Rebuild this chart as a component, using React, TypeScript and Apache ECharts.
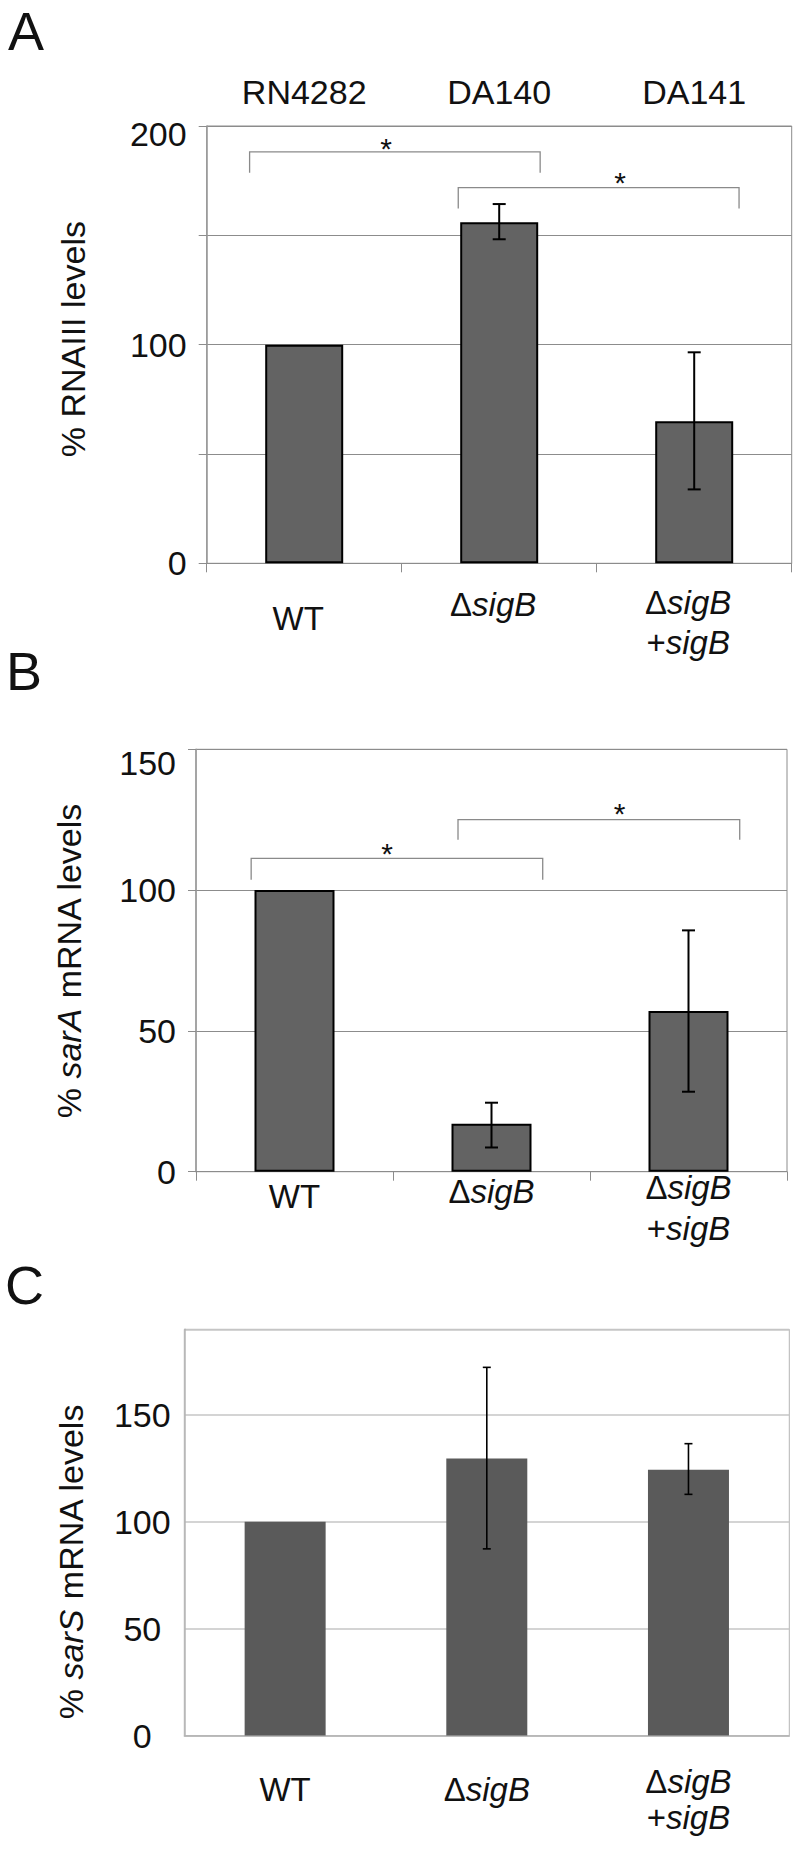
import React, { useEffect, useRef } from 'react';
import * as echarts from 'echarts';

const FONT = '"Liberation Sans", Arial, Helvetica, sans-serif';

// ---- data ----
const categories = ['WT', 'ΔsigB', 'ΔsigB +sigB'];
const strains = ['RN4282', 'DA140', 'DA141'];

const rnaIIIMean = [100, 156, 65];
const rnaIIIErrLow = [null, 148.2, 33.8];
const rnaIIIErrHigh = [null, 164.3, 96.5];

const sarAMean = [100, 17, 57.1];
const sarAErrLow = [null, 8.6, 28.4];
const sarAErrHigh = [null, 24.5, 85.7];

const sarSMean = [100, 129.6, 124.3];
const sarSErrLow = [null, 87.3, 112.8];
const sarSErrHigh = [null, 172.2, 136.5];

// significance brackets: [fromX, toX, lineY, tipY, starX, starY] (category units / axis values)
const bracketsA = [
  [-0.28, 1.21, 188.2, 178.6, 0.42, 189.8],
  [0.79, 2.23, 171.8, 162.3, 1.62, 174.3],
];
const bracketsB = [
  [-0.22, 1.26, 111.3, 103.7, 0.47, 113],
  [0.83, 2.26, 125, 117.9, 1.65, 127.2],
];

const yTicksA = [0, 100, 200];

// ---- helpers ----
const errData = (lo: (number | null)[], hi: (number | null)[]) =>
  lo.map((l, i) => (l == null ? null : [i, l, hi[i]])).filter((d) => d != null);

const catLabel = (value: string, index: number) => {
  const lines = value.split(' ');
  const first = index === 0 ? 'wt' : lines.length === 1 ? 'd' : '';
  return lines
    .map((ln) => {
      const m = ln.match(/^([Δ+]?)(.*)$/) as RegExpMatchArray;
      const pre = m[1];
      const rest = m[2];
      if (first === 'wt') return `{wt|${ln}}`;
      const nStyle = first === 'd' ? 'dn' : 'n';
      const iStyle = first === 'd' ? 'di' : 'i';
      return (pre ? `{${nStyle}|${pre}}` : '') + `{${iStyle}|${rest}}`;
    })
    .join('\n');
};

const makeRich = (fs: number, L: number, wtLH: number, dLH: number) => ({
  wt: { fontSize: fs, fontFamily: FONT, color: '#111', lineHeight: wtLH },
  dn: { fontSize: fs, fontFamily: FONT, color: '#111', lineHeight: dLH },
  di: { fontSize: fs, fontFamily: FONT, color: '#111', fontStyle: 'italic', lineHeight: dLH },
  n: { fontSize: fs, fontFamily: FONT, color: '#111', lineHeight: L },
  i: { fontSize: fs, fontFamily: FONT, color: '#111', fontStyle: 'italic', lineHeight: L },
});

const errRender = (capHalf: number, lw: number) => (params: any, api: any) => {
  const i = api.value(0);
  const lo = api.coord([i, api.value(1)]);
  const hi = api.coord([i, api.value(2)]);
  const st = { stroke: '#000', lineWidth: lw };
  return {
    type: 'group',
    children: [
      { type: 'line', shape: { x1: lo[0], y1: lo[1], x2: hi[0], y2: hi[1] }, style: st },
      { type: 'line', shape: { x1: hi[0] - capHalf, y1: hi[1], x2: hi[0] + capHalf, y2: hi[1] }, style: st },
      { type: 'line', shape: { x1: lo[0] - capHalf, y1: lo[1], x2: lo[0] + capHalf, y2: lo[1] }, style: st },
    ],
  };
};

const bracketRender = (params: any, api: any) => {
  const x1 = api.value(0);
  const x2 = api.value(1);
  const ly = api.value(2);
  const ty = api.value(3);
  const p1 = api.coord([x1, ty]);
  const p2 = api.coord([x1, ly]);
  const p3 = api.coord([x2, ly]);
  const p4 = api.coord([x2, ty]);
  const s = api.coord([api.value(4), api.value(5)]);
  return {
    type: 'group',
    children: [
      {
        type: 'polyline',
        shape: { points: [p1, p2, p3, p4] },
        style: { stroke: '#8a8a8a', lineWidth: 1.3, fill: null },
      },
      {
        type: 'text',
        x: s[0],
        y: s[1],
        style: {
          text: '*',
          fontSize: 30,
          fontFamily: FONT,
          fill: '#111',
          align: 'center',
          verticalAlign: 'middle',
        },
      },
    ],
  };
};

const grayAB = '#8c8c8c';
const grayC = '#b4b4b4';

const option: any = {
  animation: false,
  backgroundColor: '#fff',
  textStyle: { fontFamily: FONT },
  grid: [
    { left: 206.7, top: 126, width: 585, height: 437.3, show: true, borderColor: grayAB, borderWidth: 1 },
    { left: 196, top: 749.3, width: 591, height: 422.4, show: true, borderColor: grayAB, borderWidth: 1 },
    { left: 184.3, top: 1329.3, width: 605, height: 406.2, show: true, borderColor: grayC, borderWidth: 1 },
  ],
  graphic: [
    { type: 'text', left: 8, top: 4, style: { text: 'A', fontSize: 54, fontFamily: FONT, fill: '#111' } },
    { type: 'text', left: 6, top: 644, style: { text: 'B', fontSize: 54, fontFamily: FONT, fill: '#111' } },
    { type: 'text', left: 5, top: 1258, style: { text: 'C', fontSize: 54, fontFamily: FONT, fill: '#111' } },
  ],
  xAxis: [
    // 0: panel A categories
    {
      gridIndex: 0,
      type: 'category',
      data: categories,
      axisLine: { show: true, lineStyle: { color: grayAB, width: 1 } },
      axisTick: { show: true, length: 9, interval: 0, lineStyle: { color: grayAB } },
      splitLine: { show: false },
      axisLabel: {
        interval: 0,
        margin: 19,
        padding: [0, 12, 0, 0],
        formatter: catLabel,
        rich: makeRich(33, 40, 73, 45),
      },
    },
    // 1: panel A strains on top
    {
      gridIndex: 0,
      type: 'category',
      position: 'top',
      data: strains,
      axisLine: { show: false },
      axisTick: { show: false },
      splitLine: { show: false },
      axisLabel: { interval: 0, margin: 17, fontSize: 34, lineHeight: 34, fontFamily: FONT, color: '#111' },
    },
    // 2: panel A hidden value axis for brackets
    { gridIndex: 0, type: 'value', min: -0.5, max: 2.5, show: false },
    // 3: panel B categories
    {
      gridIndex: 1,
      type: 'category',
      data: categories,
      axisLine: { show: true, lineStyle: { color: grayAB, width: 1 } },
      axisTick: { show: true, length: 9, interval: 0, lineStyle: { color: grayAB } },
      splitLine: { show: false },
      axisLabel: {
        interval: 0,
        margin: -4,
        formatter: catLabel,
        rich: makeRich(33, 40.5, 57, 47),
      },
    },
    // 4: panel B hidden value axis for brackets
    { gridIndex: 1, type: 'value', min: -0.5, max: 2.5, show: false },
    // 5: panel C categories
    {
      gridIndex: 2,
      type: 'category',
      data: categories,
      axisLine: { show: true, lineStyle: { color: grayC, width: 1.5 } },
      axisTick: { show: false },
      splitLine: { show: false },
      axisLabel: {
        interval: 0,
        margin: 28,
        formatter: catLabel,
        rich: makeRich(33, 36, 52, 52),
      },
    },
  ],
  yAxis: [
    {
      gridIndex: 0,
      type: 'value',
      min: 0,
      max: 200,
      interval: 50,
      name: '% RNAIII levels',
      nameLocation: 'middle',
      nameGap: 134,
      nameTextStyle: { fontSize: 34, fontFamily: FONT, color: '#111', verticalAlign: 'middle', padding: [0, 0, 0, 11] },
      axisLine: { show: true, onZero: false, lineStyle: { color: '#9a9a9a', width: 1.5 } },
      axisTick: { show: true, length: 8, lineStyle: { color: grayAB } },
      splitLine: { show: true, lineStyle: { color: grayAB, width: 1 } },
      axisLabel: {
        margin: 20,
        fontSize: 34,
        fontFamily: FONT,
        color: '#111',
        formatter: (v: number) =>
          yTicksA.indexOf(v) < 0 ? '' : v === 200 ? `{top|${v}}` : String(v),
        rich: { top: { fontSize: 34, fontFamily: FONT, color: '#111', padding: [16, 0, 0, 0] } },
      },
    },
    {
      gridIndex: 1,
      type: 'value',
      min: 0,
      max: 150,
      interval: 50,
      name: '% {i|sarA} mRNA levels',
      nameLocation: 'middle',
      nameGap: 127.5,
      nameTextStyle: {
        fontSize: 34,
        fontFamily: FONT,
        color: '#111',
        verticalAlign: 'middle',
        rich: { i: { fontSize: 34, fontFamily: FONT, color: '#111', fontStyle: 'italic' } },
      },
      axisLine: { show: true, onZero: false, lineStyle: { color: '#9a9a9a', width: 1.5 } },
      axisTick: { show: true, length: 8, lineStyle: { color: grayAB } },
      splitLine: { show: true, lineStyle: { color: grayAB, width: 1 } },
      axisLabel: {
        margin: 20,
        fontSize: 34,
        fontFamily: FONT,
        color: '#111',
        formatter: (v: number) => (v === 150 ? `{top|${v}}` : String(v)),
        rich: { top: { fontSize: 34, fontFamily: FONT, color: '#111', padding: [28, 0, 0, 0] } },
      },
    },
    {
      gridIndex: 2,
      type: 'value',
      min: 0,
      max: 190,
      interval: 50,
      name: '% {i|sarS} mRNA levels',
      nameLocation: 'middle',
      nameGap: 113,
      nameTextStyle: {
        fontSize: 34,
        fontFamily: FONT,
        color: '#111',
        verticalAlign: 'middle',
        padding: [0, 58, 0, 0],
        rich: { i: { fontSize: 34, fontFamily: FONT, color: '#111', fontStyle: 'italic' } },
      },
      axisLine: { show: true, onZero: false, lineStyle: { color: grayC, width: 1.5 } },
      axisTick: { show: false },
      splitLine: { show: true, lineStyle: { color: '#c6c6c6', width: 1.5 } },
      axisLabel: {
        margin: 42,
        align: 'center',
        showMaxLabel: false,
        fontSize: 34,
        fontFamily: FONT,
        color: '#111',
        formatter: (v: number) => (v % 50 === 0 ? String(v) : ''),
      },
    },
  ],
  series: [
    // Panel A
    {
      type: 'bar',
      xAxisIndex: 0,
      yAxisIndex: 0,
      data: rnaIIIMean,
      barWidth: 78,
      itemStyle: { color: '#636363', borderColor: '#000', borderWidth: 2 },
      z: 2,
    },
    {
      type: 'custom',
      xAxisIndex: 0,
      yAxisIndex: 0,
      data: errData(rnaIIIErrLow, rnaIIIErrHigh),
      encode: { x: 0, y: [1, 2] },
      renderItem: errRender(6.5, 2),
      z: 4,
    },
    {
      type: 'custom',
      xAxisIndex: 2,
      yAxisIndex: 0,
      data: bracketsA,
      encode: { x: [0, 1, 4], y: [2, 3, 5] },
      renderItem: bracketRender,
      clip: false,
      z: 4,
    },
    // Panel B
    {
      type: 'bar',
      xAxisIndex: 3,
      yAxisIndex: 1,
      data: sarAMean,
      barWidth: 80,
      itemStyle: { color: '#636363', borderColor: '#000', borderWidth: 2 },
      z: 2,
    },
    {
      type: 'custom',
      xAxisIndex: 3,
      yAxisIndex: 1,
      data: errData(sarAErrLow, sarAErrHigh),
      encode: { x: 0, y: [1, 2] },
      renderItem: errRender(6.5, 2),
      z: 4,
    },
    {
      type: 'custom',
      xAxisIndex: 4,
      yAxisIndex: 1,
      data: bracketsB,
      encode: { x: [0, 1, 4], y: [2, 3, 5] },
      renderItem: bracketRender,
      clip: false,
      z: 4,
    },
    // Panel C
    {
      type: 'bar',
      xAxisIndex: 5,
      yAxisIndex: 2,
      data: sarSMean,
      barWidth: 81,
      itemStyle: { color: '#5a5a5a' },
      z: 2,
    },
    {
      type: 'custom',
      xAxisIndex: 5,
      yAxisIndex: 2,
      data: errData(sarSErrLow, sarSErrHigh),
      encode: { x: 0, y: [1, 2] },
      renderItem: errRender(4, 1.6),
      z: 4,
    },
  ],
};

export default function App() {
  const ref = useRef<HTMLDivElement>(null);
  useEffect(() => {
    document.body.style.margin = '0';
    const chart = echarts.init(ref.current as HTMLDivElement, null, { renderer: 'svg' });
    chart.setOption(option);
    return () => {
      chart.dispose();
    };
  }, []);
  return <div ref={ref} style={{ width: 800, height: 1849 }} />;
}
